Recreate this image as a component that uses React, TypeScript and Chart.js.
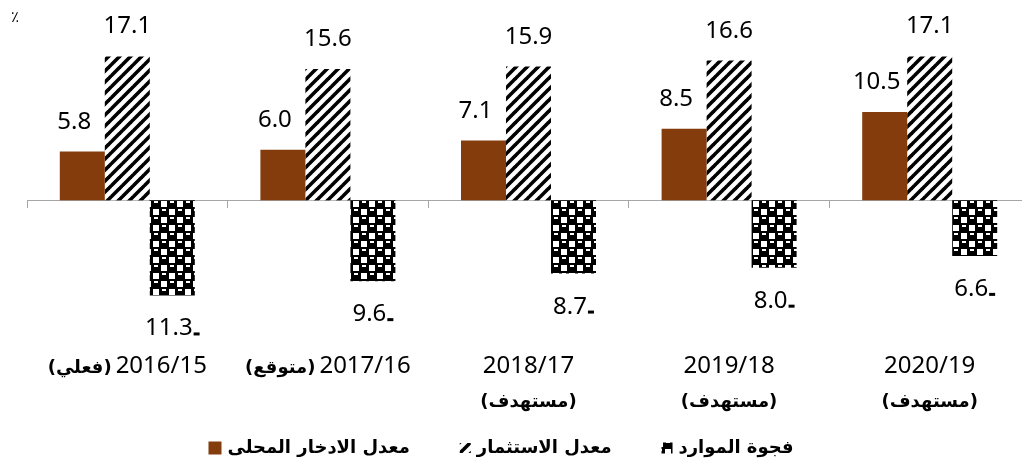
import { useEffect, useRef } from "react";
import { Chart, registerables } from "chart.js";

Chart.register(...registerables);

// ---------- data ----------
const years = ["2016/15", "2017/16", "2018/17", "2019/18", "2020/19"];
const statusLabels = ["(فعلي)", "(متوقع)", "(مستهدف)", "(مستهدف)", "(مستهدف)"];
const statusOnSecondLine = [false, false, true, true, true];
const seriesNames = ["معدل الادخار المحلى", "معدل الاستثمار", "فجوة الموارد"];
const savings = [5.8, 6.0, 7.1, 8.5, 10.5];
const investment = [17.1, 15.6, 15.9, 16.6, 17.1];
const resourceGap = [-11.3, -9.6, -8.7, -8.0, -6.6];
const unitLabel = "٪";

// ---------- styles ----------
const BROWN = "#843c0c";
const DIGIT_FONT = '24px "Noto Sans"';
const AR_FONT = 'bold 18px "DejaVu Sans"';
const LEGEND_FONT = 'bold 18px "DejaVu Sans"';
const SERIES_LABEL_SHIFT = [-8, 0, 0];

function makeHatch(): CanvasPattern | string {
  const s = 11;
  const c = document.createElement("canvas");
  c.width = s;
  c.height = s;
  const g = c.getContext("2d");
  if (!g) return "#000";
  g.fillStyle = "#fff";
  g.fillRect(0, 0, s, s);
  g.strokeStyle = "#000";
  g.lineWidth = 3.6;
  g.lineCap = "butt";
  for (const o of [-s, 0, s]) {
    g.beginPath();
    g.moveTo(o - 1, s + 1);
    g.lineTo(o + s + 1, -1);
    g.stroke();
  }
  return g.createPattern(c, "repeat") || "#000";
}

function makeChecker(): CanvasPattern | string {
  const cell = 8;
  const c = document.createElement("canvas");
  c.width = cell * 2;
  c.height = cell * 2;
  const g = c.getContext("2d");
  if (!g) return "#000";
  // black base, white checks
  g.fillStyle = "#000";
  g.fillRect(0, 0, cell * 2, cell * 2);
  g.fillStyle = "#fff";
  g.fillRect(cell + 1, 1, cell - 2, cell - 2);
  g.fillRect(1, cell + 1, cell - 2, cell - 2);
  // highlights on black cells
  g.fillRect(2, 1, 4, 2);
  g.fillRect(cell + 2, cell + 1, 4, 2);
  return g.createPattern(c, "repeat") || "#000";
}

export default function App() {
  const ref = useRef<HTMLCanvasElement>(null);

  useEffect(() => {
    document.body.style.margin = "0";
    document.body.style.overflow = "hidden";
    const canvas = ref.current;
    if (!canvas) return;
    const hatch = makeHatch();
    const checker = makeChecker();

    const labelsPlugin = {
      id: "customLabels",
      afterDraw(chart: any) {
        const ctx: CanvasRenderingContext2D = chart.ctx;
        ctx.save();
        ctx.fillStyle = "#000";

        // value labels
        chart.data.datasets.forEach((ds: any, di: number) => {
          const meta = chart.getDatasetMeta(di);
          meta.data.forEach((el: any, i: number) => {
            const v = ds.data[i] as number;
            const p = el.getProps(["x", "y"], true);
            const x = p.x + SERIES_LABEL_SHIFT[di];
            const y = p.y;
            const txt = Math.abs(v).toFixed(1);
            ctx.font = DIGIT_FONT;
            ctx.textBaseline = "alphabetic";
            if (v >= 0) {
              ctx.textAlign = "center";
              ctx.fillText(txt, x, y - 23);
            } else {
              const w = ctx.measureText(txt).width;
              const total = w + 7;
              const left = x - total / 2;
              const base = y + 40;
              ctx.textAlign = "left";
              ctx.fillText(txt, left, base);
              ctx.fillRect(left + w + 1, base - 3, 6, 3);
            }
          });
        });

        // category labels
        const xs = chart.scales.x;
        years.forEach((yr, i) => {
          const cx = xs.getPixelForValue(i);
          ctx.textBaseline = "alphabetic";
          if (statusOnSecondLine[i]) {
            ctx.font = DIGIT_FONT;
            ctx.textAlign = "center";
            ctx.direction = "ltr";
            ctx.fillText(yr, cx, 373);
            ctx.font = AR_FONT;
            ctx.direction = "rtl";
            ctx.fillText(statusLabels[i], cx, 407);
          } else {
            ctx.font = DIGIT_FONT;
            const w1 = ctx.measureText(yr).width;
            ctx.font = AR_FONT;
            const w2 = ctx.measureText(statusLabels[i]).width;
            const gap = 4;
            const left = cx - (w1 + w2 + gap) / 2;
            ctx.direction = "rtl";
            ctx.textAlign = "right";
            ctx.fillText(statusLabels[i], left + w2, 373);
            ctx.direction = "ltr";
            ctx.textAlign = "left";
            ctx.font = DIGIT_FONT;
            ctx.fillText(yr, left + w2 + gap, 373);
          }
        });

        // legend
        const iconW = [13, 11, 11];
        const iconH = [13, 10, 11];
        const textGap = 6;
        const itemGap = 50;
        ctx.font = LEGEND_FONT;
        const tw = seriesNames.map((n) => ctx.measureText(n).width);
        let total = 0;
        tw.forEach((w, i) => {
          total += iconW[i] + textGap + w + (i < tw.length - 1 ? itemGap : 0);
        });
        let lx = 501 - total / 2;
        const ly = 448;
        chart.data.datasets.forEach((ds: any, i: number) => {
          ctx.fillStyle = ds.backgroundColor;
          ctx.fillRect(lx, ly - iconH[i] / 2, iconW[i], iconH[i]);
          lx += iconW[i] + textGap;
          ctx.fillStyle = "#000";
          ctx.direction = "rtl";
          ctx.textAlign = "right";
          ctx.textBaseline = "middle";
          ctx.fillText(seriesNames[i], lx + tw[i], ly);
          lx += tw[i] + itemGap;
        });

        // unit
        ctx.direction = "ltr";
        ctx.textAlign = "left";
        ctx.textBaseline = "alphabetic";
        ctx.font = '15px "DejaVu Sans"';
        ctx.fillStyle = "#000";
        ctx.fillText(unitLabel, 11, 22);
        ctx.restore();
      },
    };

    const chart = new Chart(canvas, {
      type: "bar",
      data: {
        labels: years,
        datasets: [
          { label: seriesNames[0], data: savings, backgroundColor: BROWN, borderWidth: 0 },
          { label: seriesNames[1], data: investment, backgroundColor: hatch as any, borderWidth: 0 },
          { label: seriesNames[2], data: resourceGap, backgroundColor: checker as any, borderWidth: 0 },
        ],
      },
      options: {
        animation: false,
        responsive: false,
        devicePixelRatio: 1,
        layout: { padding: { left: 27, right: 10, top: 32, bottom: 131 } },
        datasets: { bar: { categoryPercentage: 0.673, barPercentage: 1 } },
        plugins: {
          legend: { display: false },
          tooltip: { enabled: false },
          title: { display: false },
        },
        scales: {
          x: {
            type: "category",
            position: { y: 0 } as any,
            offset: true,
            ticks: { display: false },
            grid: {
              display: true,
              drawOnChartArea: false,
              drawTicks: true,
              tickLength: 7,
              color: "#a6a6a6",
              offset: true,
            },
            border: { display: true, color: "#a6a6a6", width: 1 },
          },
          y: {
            display: false,
            min: -16,
            max: 20,
          },
        },
      },
      plugins: [labelsPlugin],
    });
    return () => chart.destroy();
  }, []);

  return (
    <div style={{ width: 1040, height: 466, position: "relative" }}>
      <canvas ref={ref} width={1040} height={466} style={{ display: "block", width: 1040, height: 466 }} />
    </div>
  );
}
